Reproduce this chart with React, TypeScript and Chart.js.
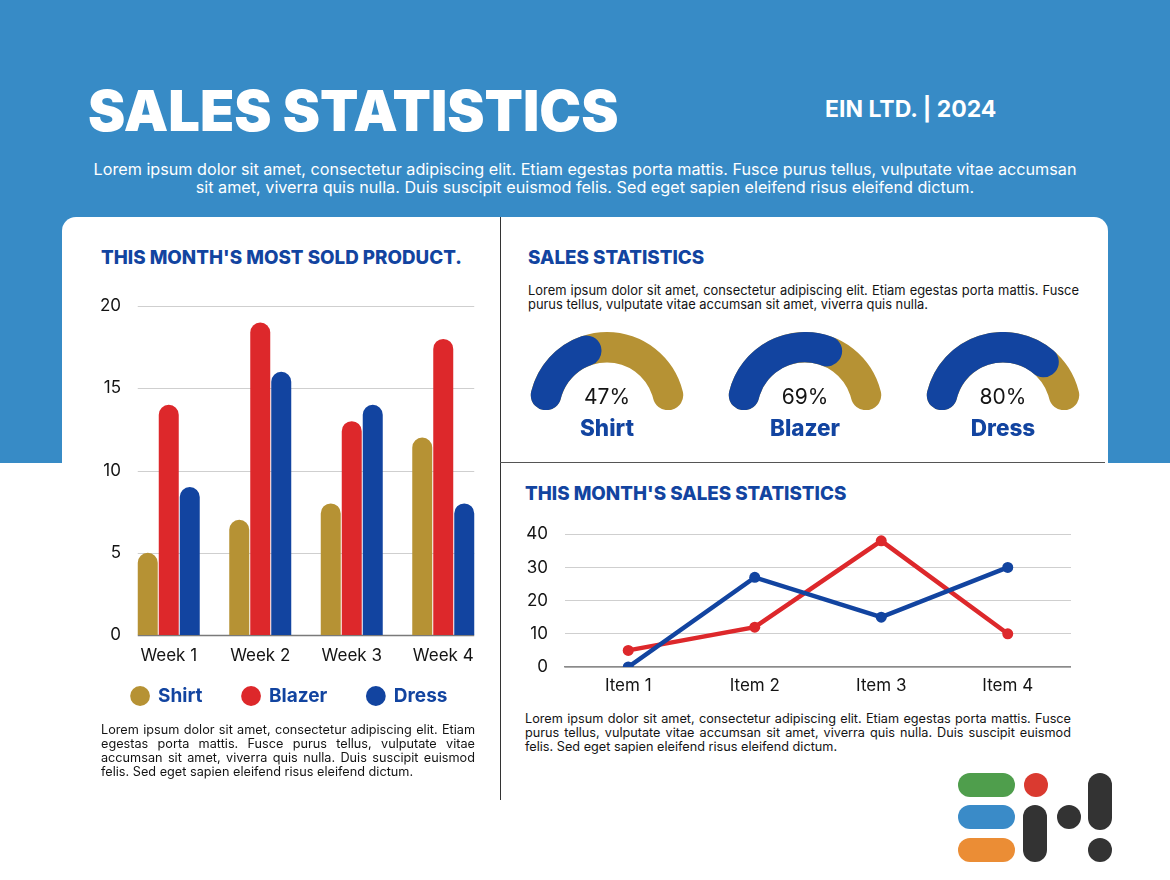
import React, { useEffect, useRef } from 'react';
import { Chart, registerables } from 'chart.js';

Chart.register(...registerables);

// ---------- data ----------
const weeks = ['Week 1', 'Week 2', 'Week 3', 'Week 4'];
const shirtSales = [5, 7, 8, 12];
const blazerSales = [14, 19, 13, 18];
const dressSales = [9, 16, 14, 8];

const items = ['Item 1', 'Item 2', 'Item 3', 'Item 4'];
const blueSeries = [0, 27, 15, 30];
const redSeries = [5, 12, 38, 10];

const gaugeNames = ['Shirt', 'Blazer', 'Dress'];
const gaugeValues = [47, 69, 80];
const gaugeTotal = 100;

// ---------- styles ----------
const FONT = 'Inter, "Open Sans", sans-serif';
const BLUE = '#1244A0';
const RED = '#DD282B';
const GOLD = '#B69234';
const SKY = '#378BC6';
const INK = '#141414';

function BarChart() {
  const ref = useRef<HTMLCanvasElement>(null);
  useEffect(() => {
    const gridPlugin = {
      id: 'barGrid',
      beforeDatasetsDraw(chart: any) {
        const ctx = chart.ctx;
        const n = chart.data.datasets.length;
        const m0 = chart.getDatasetMeta(0).data;
        const mN = chart.getDatasetMeta(n - 1).data;
        const x0 = m0[0].x - m0[0].width / 2;
        const x1 = mN[mN.length - 1].x + mN[mN.length - 1].width / 2;
        const ys = chart.scales.y;
        ctx.save();
        ys.ticks.forEach((t: any) => {
          const py = Math.round(ys.getPixelForValue(t.value)) + 0.5;
          ctx.strokeStyle = t.value === 0 ? '#7a7a7a' : '#cfcfcf';
          ctx.lineWidth = t.value === 0 ? 1.5 : 1;
          ctx.beginPath();
          ctx.moveTo(x0, py);
          ctx.lineTo(x1, py);
          ctx.stroke();
        });
        ctx.restore();
      },
    };
    // pull the legend row up closer to the axis labels
    const legendShift = {
      id: 'legendShift',
      afterLayout(chart: any) {
        const lg = chart.legend;
        if (lg) {
          lg.top -= 20.5;
          lg.bottom -= 20.5;
        }
      },
    };
    const radius = { topLeft: 10, topRight: 10, bottomLeft: 0, bottomRight: 0 };
    const chart = new Chart(ref.current as HTMLCanvasElement, {
      type: 'bar',
      data: {
        labels: weeks,
        datasets: [
          { label: 'Shirt', data: shirtSales, backgroundColor: GOLD },
          { label: 'Blazer', data: blazerSales, backgroundColor: RED },
          { label: 'Dress', data: dressSales, backgroundColor: BLUE },
        ],
      },
      options: {
        responsive: false,
        animation: false,
        events: [],
        layout: { padding: { top: 20, left: 0, right: 0, bottom: 0 } },
        datasets: {
          bar: {
            categoryPercentage: 0.6885,
            barPercentage: 0.952,
            borderRadius: radius,
            borderSkipped: 'bottom',
            borderWidth: 0,
          },
        },
        scales: {
          x: {
            grid: { display: false, drawTicks: false },
            border: { display: false },
            ticks: { color: INK, font: { family: FONT, size: 17 }, padding: 11 },
            afterFit: (s: any) => {
              s.height = 32;
            },
          },
          y: {
            min: 0,
            max: 20,
            grid: { display: false, drawTicks: false },
            border: { display: false },
            ticks: { stepSize: 5, color: INK, font: { family: FONT, size: 17 }, padding: 2 },
            afterFit: (s: any) => {
              s.width = 33;
            },
          },
        },
        plugins: {
          legend: {
            position: 'bottom',
            labels: {
              usePointStyle: true,
              pointStyle: 'circle',
              boxWidth: 17,
              boxHeight: 14,
              padding: 40,
              color: BLUE,
              font: { family: FONT, size: 19, weight: 'bold' },
            },
          },
          tooltip: { enabled: false },
        },
      } as any,
      plugins: [gridPlugin, legendShift],
    });
    return () => chart.destroy();
  }, []);
  return (
    <canvas ref={ref} width={399} height={450} style={{ position: 'absolute', left: 90, top: 286 }} />
  );
}

function LineChart() {
  const ref = useRef<HTMLCanvasElement>(null);
  useEffect(() => {
    const chart = new Chart(ref.current as HTMLCanvasElement, {
      type: 'line',
      data: {
        labels: items,
        datasets: [
          {
            label: 'Series B',
            data: blueSeries,
            borderColor: BLUE,
            backgroundColor: BLUE,
            borderWidth: 4.5,
            pointRadius: 5.5,
            pointBorderWidth: 0,
            tension: 0,
          },
          {
            label: 'Series A',
            data: redSeries,
            borderColor: RED,
            backgroundColor: RED,
            borderWidth: 4.5,
            pointRadius: 5.5,
            pointBorderWidth: 0,
            tension: 0,
          },
        ],
      },
      options: {
        responsive: false,
        animation: false,
        events: [],
        layout: { autoPadding: false, padding: 0 },
        scales: {
          x: {
            offset: true,
            grid: { display: false, drawTicks: false },
            border: { display: true, color: '#8a8a8a', width: 1.5 },
            ticks: { color: INK, font: { family: FONT, size: 17 }, padding: 9 },
            afterFit: (s: any) => {
              s.height = 30;
            },
          },
          y: {
            min: 0,
            max: 40,
            grid: { color: '#cfcfcf', drawTicks: false, lineWidth: 1 },
            border: { display: false },
            ticks: { stepSize: 10, color: INK, font: { family: FONT, size: 17 }, padding: 17 },
            afterFit: (s: any) => {
              s.width = 50;
            },
          },
        },
        plugins: { legend: { display: false }, tooltip: { enabled: false } },
      } as any,
    });
    return () => chart.destroy();
  }, []);
  return (
    <canvas ref={ref} width={556} height={190} style={{ position: 'absolute', left: 515, top: 507 }} />
  );
}

function Gauge({ value, name, left }: { value: number; name: string; left: number }) {
  const bgRef = useRef<HTMLCanvasElement>(null);
  const fgRef = useRef<HTMLCanvasElement>(null);
  useEffect(() => {
    const opts: any = {
      responsive: false,
      animation: false,
      events: [],
      rotation: -90,
      circumference: 180,
      cutout: '61%',
      plugins: { legend: { display: false }, tooltip: { enabled: false } },
    };
    const bg = new Chart(bgRef.current as HTMLCanvasElement, {
      type: 'doughnut',
      data: { datasets: [{ data: [gaugeTotal], backgroundColor: [GOLD], borderWidth: 0, borderRadius: 15 }] },
      options: opts,
    });
    const fg = new Chart(fgRef.current as HTMLCanvasElement, {
      type: 'doughnut',
      data: {
        datasets: [
          {
            data: [value, gaugeTotal - value],
            backgroundColor: [BLUE, 'rgba(0,0,0,0)'],
            borderWidth: 0,
            borderRadius: 15,
          },
        ],
      },
      options: opts,
    });
    return () => {
      bg.destroy();
      fg.destroy();
    };
  }, [value]);
  const cs: React.CSSProperties = { position: 'absolute', left, top: 332 };
  return (
    <>
      <canvas ref={bgRef} width={156} height={78} style={cs} />
      <canvas ref={fgRef} width={156} height={78} style={cs} />
      <div
        style={{
          position: 'absolute',
          left: left,
          width: 156,
          top: 383,
          textAlign: 'center',
          fontSize: 21,
          color: INK,
          fontFamily: FONT,
          lineHeight: '28px',
        }}
      >
        {value}%
      </div>
      <div
        style={{
          position: 'absolute',
          left: left,
          width: 156,
          top: 413,
          textAlign: 'center',
          fontSize: 22.5,
          fontWeight: 800,
          color: BLUE,
          fontFamily: FONT,
          lineHeight: '30px',
        }}
      >
        {name}
      </div>
    </>
  );
}

function JustLines({ lines, style }: { lines: string[]; style: React.CSSProperties }) {
  return (
    <div style={{ position: 'absolute', fontFamily: FONT, color: INK, ...style }}>
      {lines.map((l, i) => (
        <div
          key={i}
          style={{
            textAlign: 'justify',
            textAlignLast: i < lines.length - 1 ? 'justify' : 'left',
            whiteSpace: 'nowrap',
          } as any}
        >
          {l}
        </div>
      ))}
    </div>
  );
}

function Pill({ l, t, w, h, c }: { l: number; t: number; w: number; h: number; c: string }) {
  return (
    <div
      style={{
        position: 'absolute',
        left: l,
        top: t,
        width: w,
        height: h,
        borderRadius: Math.min(w, h) / 2,
        background: c,
      }}
    />
  );
}

export default function App() {
  const heading: React.CSSProperties = {
    position: 'absolute',
    fontFamily: FONT,
    fontWeight: 800,
    color: BLUE,
    fontSize: 18.8,
    lineHeight: '24px',
    whiteSpace: 'nowrap',
  };
  return (
    <div
      style={{
        position: 'absolute',
        left: 0,
        top: 0,
        width: 1170,
        height: 880,
        overflow: 'hidden',
        background: '#ffffff',
        fontFamily: FONT,
      }}
    >
      <div style={{ position: 'absolute', left: 0, top: 0, width: 1170, height: 463, background: SKY }} />
      <div
        style={{
          position: 'absolute',
          left: 88,
          top: 76,
          fontSize: 56,
          fontWeight: 900,
          color: '#fff',
          lineHeight: '70px',
          whiteSpace: 'nowrap',
        }}
      >
        SALES STATISTICS
      </div>
      <div
        style={{
          position: 'absolute',
          left: 825,
          top: 94,
          fontSize: 23,
          fontWeight: 700,
          color: '#fff',
          lineHeight: '30px',
          whiteSpace: 'nowrap',
        }}
      >
        EIN LTD. | 2024
      </div>
      <div
        style={{
          position: 'absolute',
          left: 0,
          width: 1170,
          top: 160,
          fontSize: 16.2,
          color: '#fff',
          lineHeight: '18px',
          textAlign: 'center',
          whiteSpace: 'nowrap',
        }}
      >
        Lorem ipsum dolor sit amet, consectetur adipiscing elit. Etiam egestas porta mattis. Fusce purus tellus, vulputate vitae accumsan
        <br />
        sit amet, viverra quis nulla. Duis suscipit euismod felis. Sed eget sapien eleifend risus eleifend dictum.
      </div>

      {/* card */}
      <div
        style={{
          position: 'absolute',
          left: 62,
          top: 217,
          width: 1046,
          height: 700,
          background: '#fff',
          borderRadius: '14px 14px 0 0',
        }}
      />
      <div style={{ position: 'absolute', left: 500, top: 217, width: 1, height: 583, background: '#333' }} />
      <div style={{ position: 'absolute', left: 500, top: 462, width: 605, height: 1, background: '#555' }} />

      {/* left panel */}
      <div style={{ ...heading, left: 101, top: 246 }}>THIS MONTH'S MOST SOLD PRODUCT.</div>
      <BarChart />
      <JustLines
        style={{ left: 101, top: 723, width: 374, fontSize: 12.7, lineHeight: '14px' }}
        lines={[
          'Lorem ipsum dolor sit amet, consectetur adipiscing elit. Etiam',
          'egestas porta mattis. Fusce purus tellus, vulputate vitae',
          'accumsan sit amet, viverra quis nulla. Duis suscipit euismod',
          'felis. Sed eget sapien eleifend risus eleifend dictum.',
        ]}
      />

      {/* right top */}
      <div style={{ ...heading, left: 528, top: 246 }}>SALES STATISTICS</div>
      <JustLines
        style={{ left: 528, top: 284, width: 551, fontSize: 12.9, lineHeight: '14px' }}
        lines={[
          'Lorem ipsum dolor sit amet, consectetur adipiscing elit. Etiam egestas porta mattis. Fusce',
          'purus tellus, vulputate vitae accumsan sit amet, viverra quis nulla.',
        ]}
      />
      {gaugeValues.map((v, i) => (
        <Gauge key={i} value={v} name={gaugeNames[i]} left={529 + i * 198} />
      ))}

      {/* right bottom */}
      <div style={{ ...heading, left: 525, top: 482 }}>THIS MONTH'S SALES STATISTICS</div>
      <LineChart />
      <JustLines
        style={{ left: 525, top: 712, width: 546, fontSize: 12.7, lineHeight: '14px' }}
        lines={[
          'Lorem ipsum dolor sit amet, consectetur adipiscing elit. Etiam egestas porta mattis. Fusce',
          'purus tellus, vulputate vitae accumsan sit amet, viverra quis nulla. Duis suscipit euismod',
          'felis. Sed eget sapien eleifend risus eleifend dictum.',
        ]}
      />

      {/* logo */}
      <Pill l={958} t={773} w={57} h={24} c="#4F9E4C" />
      <Pill l={1024} t={773} w={24} h={24} c="#DA3A30" />
      <Pill l={958} t={805} w={57} h={24} c="#3A8BC8" />
      <Pill l={958} t={838} w={57} h={24} c="#EB8D35" />
      <Pill l={1023} t={805} w={24} h={57} c="#333333" />
      <Pill l={1057} t={805} w={24} h={24} c="#333333" />
      <Pill l={1088} t={773} w={24} h={57} c="#333333" />
      <Pill l={1088} t={838} w={24} h={24} c="#333333" />
    </div>
  );
}
